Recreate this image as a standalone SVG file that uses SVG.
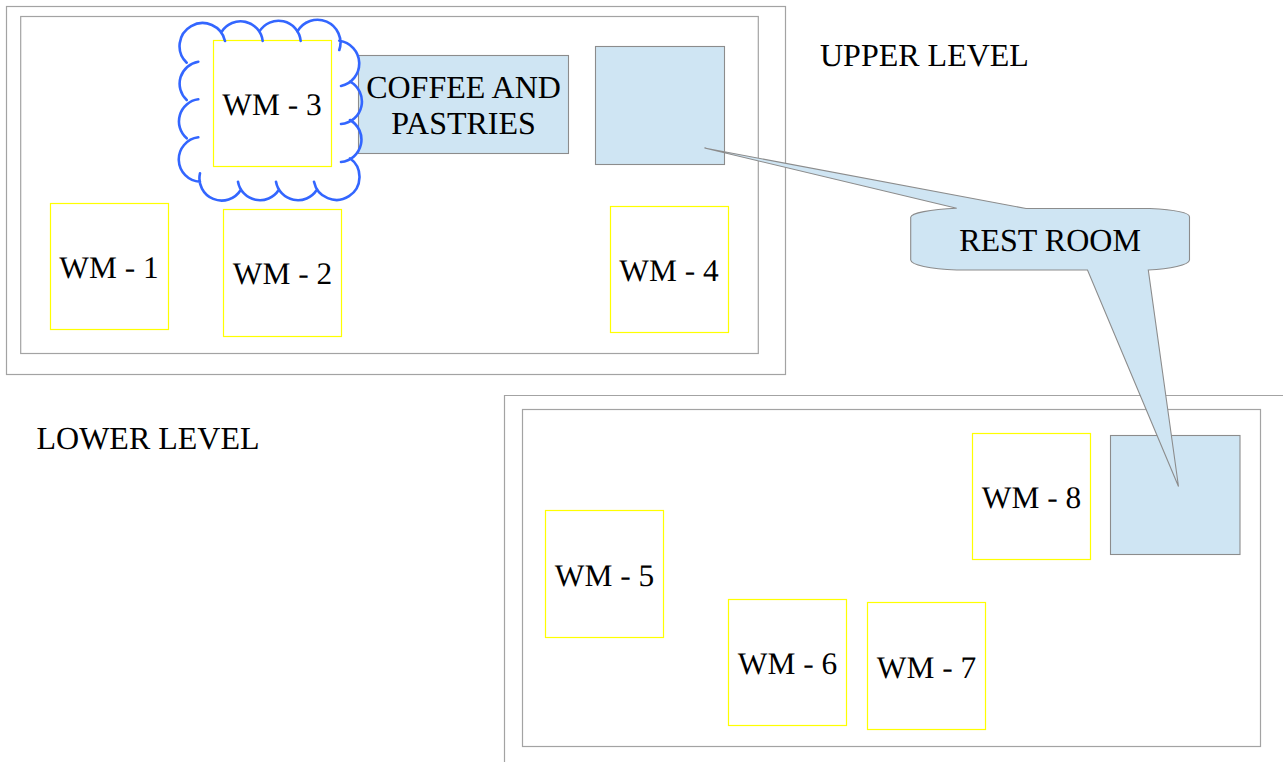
<svg xmlns="http://www.w3.org/2000/svg" width="1283" height="762" viewBox="0 0 1283 762">
<style>
.frame{fill:#fff;stroke:#a3a3a3;stroke-width:1.2}
.wm{fill:#fff;stroke:#ffff00;stroke-width:1.2}
.blue{fill:#cfe5f3;stroke:#8c8c8c;stroke-width:1.1}
.cloud{fill:none;stroke:#3366ff;stroke-width:2.6;stroke-linecap:round}
text{font-family:"Liberation Serif","Times New Roman",serif;font-size:32px;fill:#000;text-anchor:middle;text-rendering:geometricPrecision}
.l{text-anchor:start}
.w{font-size:31.4px}
</style>
<rect width="1283" height="762" fill="#fff"/>
<g id="upper-level">
<rect class="frame" x="6.500" y="6.500" width="779" height="368"/>
<rect class="frame" x="20.700" y="16.500" width="737.600" height="337"/>
<text class="l" x="820" y="66">UPPER LEVEL</text>
</g>
<g id="lower-level">
<path class="frame" d="M1283,395.500H504.500V762"/>
<rect class="frame" x="522.500" y="409.500" width="738" height="337"/>
<text class="l" x="36.500" y="449">LOWER LEVEL</text>
</g>
<g id="coffee">
<rect class="blue" x="358.500" y="55.500" width="210" height="98"/>
<text x="463.500" y="98">COFFEE AND</text>
<text x="463.500" y="133.500">PASTRIES</text>
</g>
<g id="restroom-upper"><rect class="blue" x="595.500" y="46.500" width="129" height="118"/></g>
<g id="restroom-lower"><rect class="blue" x="1110.500" y="435.500" width="129.500" height="119"/></g>
<g id="wm-1"><rect class="wm" x="50.500" y="203.500" width="118" height="126"/><text class="w" x="109" y="278">WM - 1</text></g>
<g id="wm-2"><rect class="wm" x="223.500" y="209.500" width="118" height="127"/><text class="w" x="282.500" y="284.300">WM - 2</text></g>
<g id="wm-3"><rect class="wm" x="213.500" y="40.500" width="118" height="126"/><text class="w" x="272" y="115">WM - 3</text></g>
<g id="wm-4"><rect class="wm" x="610.500" y="206.500" width="118" height="126"/><text class="w" x="669" y="281">WM - 4</text></g>
<g id="wm-5"><rect class="wm" x="545.500" y="510.500" width="118" height="127"/><text class="w" x="604.500" y="586">WM - 5</text></g>
<g id="wm-6"><rect class="wm" x="728.500" y="599.500" width="118" height="126"/><text class="w" x="787.500" y="674">WM - 6</text></g>
<g id="wm-7"><rect class="wm" x="867.500" y="602.500" width="118" height="127"/><text class="w" x="926.500" y="678">WM - 7</text></g>
<g id="wm-8"><rect class="wm" x="972.500" y="433.500" width="118" height="126"/><text class="w" x="1031.500" y="508">WM - 8</text></g>
<g id="cloud">
<path class="cloud" d="M186.700,62.700A23,23 0 1 1 225,41M221.700,31.700A22.300,22.300 0 0 1 262.700,41M259.300,31.700A22.300,22.300 0 0 1 300.700,41M297.300,31.700A23,23 0 0 1 339.300,50M339.300,40.700A23,23 0 0 1 341,86M350,81.700A22.500,22.500 0 0 1 341,124M350,120A22.500,22.500 0 0 1 341,162M350,158.300A23,23 0 1 1 314,181.700M316.700,190A22.300,22.300 0 0 1 276,181.700M278.700,190A22.300,22.300 0 0 1 238,181.700M240.700,190A22.300,22.300 0 0 1 200,173.300M200,181.700A22.300,22.300 0 0 1 198.300,137.300M186.700,138.300A22.300,22.300 0 0 1 198.300,99.300M186.700,100A22.300,22.300 0 0 1 198.300,61.700"/>
</g>
<g id="callout">
<path class="blue" d="M704.500,148L1026,208.500H1150C1170,209.500 1189,212 1189.500,216.700V260C1189,265 1170,269 1148.300,270L1178.500,486.500L1087.500,270H956.700C930,269 911,265 910.700,260V217.300C911,213 930,209.500 956.700,208.300Z"/>
<text x="1050" y="250.500">REST ROOM</text>
</g>
</svg>
